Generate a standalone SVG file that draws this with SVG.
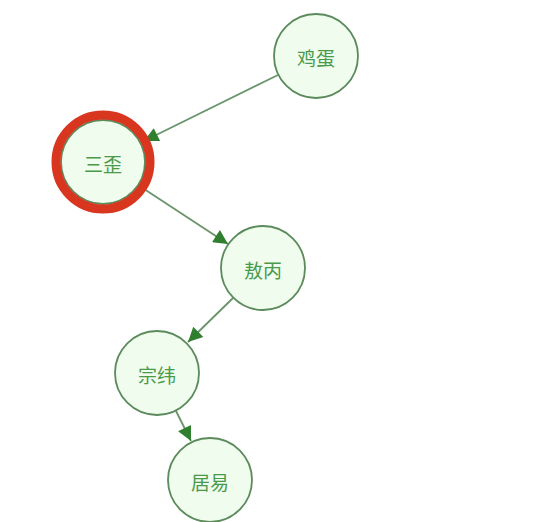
<svg xmlns="http://www.w3.org/2000/svg" width="552" height="522" viewBox="0 0 552 522">
<style>
.node circle.n{fill:#effcee;stroke:#5b8a5b;stroke-width:1.8}
.node text{font-family:"Noto Sans CJK SC","Noto Sans",sans-serif;font-size:19px;fill:#4a9a4a;text-anchor:middle;dominant-baseline:central}
.edge{stroke:#6a946a;stroke-width:1.8;fill:none;marker-end:url(#arrow)}
.sel{fill:none;stroke:#d8361f;stroke-width:9}
</style>
<defs>
<marker id="arrow" viewBox="0 0 10 10" refX="10" refY="5" markerWidth="9" markerHeight="8" markerUnits="strokeWidth" orient="auto">
<path d="M0,0 L10,5 L0,10 z" fill="#2f7f2f"/>
</marker>
</defs>
<rect width="552" height="522" fill="#ffffff"/>
<g id="edges">
<line class="edge" x1="278" y1="75" x2="144" y2="141"/>
<line class="edge" x1="138" y1="185" x2="228" y2="244"/>
<line class="edge" x1="233" y1="298" x2="188" y2="342"/>
<line class="edge" x1="176" y1="411" x2="191" y2="441"/>
</g>
<g id="node-jidan" class="node">
<circle class="n" cx="316" cy="56" r="42"/>
<text x="316" y="57">鸡蛋</text>
</g>
<g id="node-sanwai" class="node">
<circle class="n" cx="103" cy="162" r="42"/>
<circle class="sel" cx="103" cy="162" r="47"/>
<text x="103" y="163">三歪</text>
</g>
<g id="node-aobing" class="node">
<circle class="n" cx="263" cy="268" r="42"/>
<text x="263" y="269">敖丙</text>
</g>
<g id="node-zongwei" class="node">
<circle class="n" cx="157" cy="373" r="42"/>
<text x="157" y="374">宗纬</text>
</g>
<g id="node-juyi" class="node">
<circle class="n" cx="210" cy="480" r="42"/>
<text x="210" y="481">居易</text>
</g>
</svg>
